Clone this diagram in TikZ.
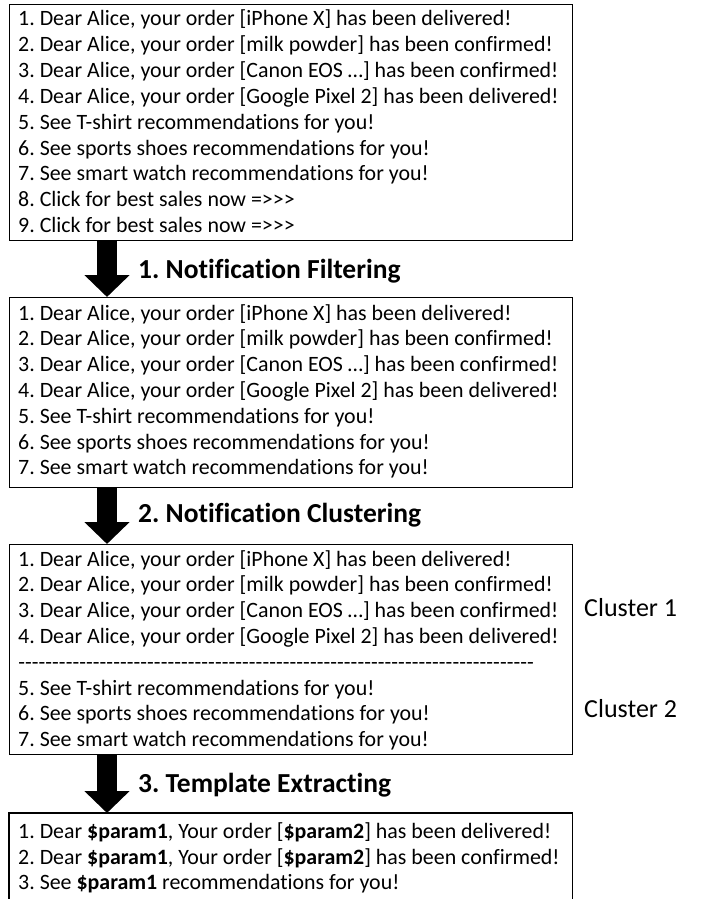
\documentclass[tikz,border=0pt]{standalone}
\usepackage{fontspec}
\setmainfont{Carlito}[Ligatures={TeXOff,NoCommon}]
\usetikzlibrary{arrows.meta,calc}
\frenchspacing

\tikzset{
  listbox/.style={draw=black, line width=1.2pt, rectangle, inner sep=0pt,
    minimum width=563pt, anchor=north west},
  item/.style={anchor=base west, inner sep=0pt,
    font=\fontsize{21.9}{26}\selectfont},
  stagelabel/.style={anchor=base west, inner sep=0pt,
    font=\fontsize{27.5}{32}\selectfont\bfseries},
  clusterlabel/.style={anchor=base west, inner sep=0pt,
    font=\fontsize{26}{30}\selectfont},
  bigarrow/.style={line width=20pt, draw=black,
    -{Triangle[width=44pt,length=22pt]}},
}

\begin{document}
\begin{tikzpicture}[x=1pt, y=-1pt]
\useasboundingbox[fill=white] (0,0) rectangle (708,899);

% ---- raw notifications ----
\node[listbox, minimum height=236pt] (raw) at (9,4) {};
\foreach \t [count=\i] in {
  {1. Dear Alice, your order [iPhone X] has been delivered!},
  {2. Dear Alice, your order [milk powder] has been confirmed!},
  {3. Dear Alice, your order [Canon EOS …] has been confirmed!},
  {4. Dear Alice, your order [Google Pixel 2] has been delivered!},
  {5. See T-shirt recommendations for you!},
  {6. See sports shoes recommendations for you!},
  {7. See smart watch recommendations for you!},
  {8. Click for best sales now =>>>},
  {9. Click for best sales now =>>>}}
  \node[item] (raw\i) at (18, 26+25.8*\i-25.8) {\t};

% ---- filtered notifications ----
\node[listbox, minimum height=190pt] (filt) at (9,297) {};
\foreach \t [count=\i] in {
  {1. Dear Alice, your order [iPhone X] has been delivered!},
  {2. Dear Alice, your order [milk powder] has been confirmed!},
  {3. Dear Alice, your order [Canon EOS …] has been confirmed!},
  {4. Dear Alice, your order [Google Pixel 2] has been delivered!},
  {5. See T-shirt recommendations for you!},
  {6. See sports shoes recommendations for you!},
  {7. See smart watch recommendations for you!}}
  \node[item] (filt\i) at (18, 320+25.8*\i-25.8) {\t};

% ---- clustered notifications ----
\node[listbox, minimum height=210pt] (clus) at (9,544) {};
\foreach \t [count=\i] in {
  {1. Dear Alice, your order [iPhone X] has been delivered!},
  {2. Dear Alice, your order [milk powder] has been confirmed!},
  {3. Dear Alice, your order [Canon EOS …] has been confirmed!},
  {4. Dear Alice, your order [Google Pixel 2] has been delivered!}}
  \node[item] (clusA\i) at (18, 566+25.8*\i-25.8) {\t};
\node[item] (sep) at (18, 669)
  {\hbox to 516pt{\xleaders\hbox{-}\hfill}};
\foreach \t [count=\i] in {
  {5. See T-shirt recommendations for you!},
  {6. See sports shoes recommendations for you!},
  {7. See smart watch recommendations for you!}}
  \node[item] (clusB\i) at (18, 695+25.8*\i-25.8) {\t};
\node[clusterlabel] (c1) at (584, 616) {Cluster 1};
\node[clusterlabel] (c2) at (584, 717) {Cluster 2};

% ---- extracted templates (box runs past the bottom edge) ----
\node[rectangle, inner sep=0pt, minimum width=563pt, minimum height=86pt,
  anchor=north west] (tmpl) at (9,813) {};
\draw[line width=1.2pt] (tmpl.south west) -- (tmpl.north west)
  -- (tmpl.north east) -- (tmpl.south east);
\node[item] (tmpl1) at (18, 838)
  {1. Dear \textbf{\$param1}, Your order [\textbf{\$param2}] has been delivered!};
\node[item] (tmpl2) at (18, 864)
  {2. Dear \textbf{\$param1}, Your order [\textbf{\$param2}] has been confirmed!};
\node[item] (tmpl3) at (18, 889)
  {3. See \textbf{\$param1} recommendations for you!};

% ---- processing steps ----
\draw[bigarrow] ($(raw.south west)+(98,0)$) -- ($(filt.north west)+(98,0)$);
\draw[bigarrow] ($(filt.south west)+(98,0)$) -- ($(clus.north west)+(98,0)$);
\draw[bigarrow] ($(clus.south west)+(98,0)$) -- ($(tmpl.north west)+(98,0)$);
\node[stagelabel] (s1) at (138, 278) {1. Notification Filtering};
\node[stagelabel] (s2) at (138, 522) {2. Notification Clustering};
\node[stagelabel] (s3) at (138, 792) {3. Template Extracting};
\end{tikzpicture}
\end{document}
